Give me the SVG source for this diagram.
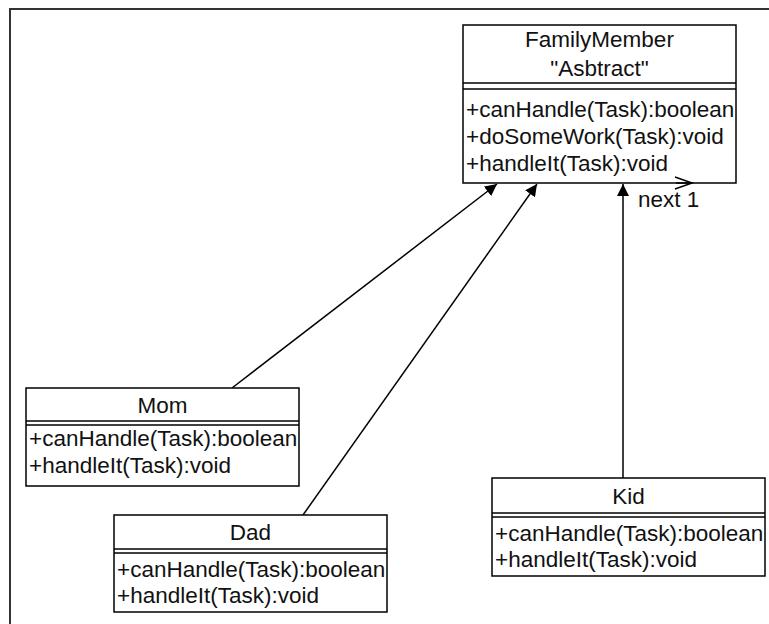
<svg xmlns="http://www.w3.org/2000/svg" width="769" height="624" viewBox="0 0 769 624">
<defs>
<style>
.box{fill:#fff;stroke:#000;stroke-width:1.5}
.sep{stroke:#000;stroke-width:1.5;fill:none}
.t{font-family:"Liberation Sans",Arial,sans-serif;font-size:22.5px;fill:#111}
.c{text-anchor:middle}
.edge{stroke:#000;stroke-width:1.5;fill:none}
</style>
<marker id="tri" viewBox="0 0 10 10" refX="10" refY="5" markerWidth="12" markerHeight="12" markerUnits="userSpaceOnUse" orient="auto">
<path d="M0,0 L10,5 L0,10 z" fill="#000"/>
</marker>
</defs>
<rect width="769" height="624" fill="#fff"/>
<path d="M10,624 V9 H769" fill="none" stroke="#333" stroke-width="2"/>
<g id="connectors">
<line class="edge" x1="232" y1="388" x2="497" y2="184" marker-end="url(#tri)"/>
<line class="edge" x1="303" y1="515" x2="537" y2="184" marker-end="url(#tri)"/>
<line class="edge" x1="623" y1="478" x2="623" y2="184" marker-end="url(#tri)"/>
</g>
<g id="FamilyMember">
<rect class="box" x="463" y="25" width="273" height="158"/>
<line class="sep" x1="463" y1="83" x2="736" y2="83"/>
<line class="sep" x1="463" y1="89" x2="736" y2="89"/>
<text class="t c" x="599.5" y="47">FamilyMember</text>
<text class="t c" x="599.5" y="76">"Asbtract"</text>
<text class="t" x="466" y="117">+canHandle(Task):boolean</text>
<text class="t" x="466" y="144">+doSomeWork(Task):void</text>
<text class="t" x="466" y="171">+handleIt(Task):void</text>
<line class="edge" x1="676" y1="183" x2="692" y2="183"/>
<polyline class="edge" points="675,177 692,183 675,189"/>
<text class="t" x="638" y="207">next 1</text>
</g>
<g id="Mom">
<rect class="box" x="26" y="388" width="273" height="98"/>
<line class="sep" x1="26" y1="421" x2="299" y2="421"/>
<line class="sep" x1="26" y1="425" x2="299" y2="425"/>
<text class="t c" x="162.5" y="413">Mom</text>
<text class="t" x="29" y="446">+canHandle(Task):boolean</text>
<text class="t" x="29" y="473">+handleIt(Task):void</text>
</g>
<g id="Dad">
<rect class="box" x="114" y="515" width="273" height="97"/>
<line class="sep" x1="114" y1="549" x2="387" y2="549"/>
<line class="sep" x1="114" y1="553" x2="387" y2="553"/>
<text class="t c" x="250.5" y="540">Dad</text>
<text class="t" x="117" y="577">+canHandle(Task):boolean</text>
<text class="t" x="117" y="603">+handleIt(Task):void</text>
</g>
<g id="Kid">
<rect class="box" x="492" y="478" width="273" height="98"/>
<line class="sep" x1="492" y1="513" x2="765" y2="513"/>
<line class="sep" x1="492" y1="517" x2="765" y2="517"/>
<text class="t c" x="628.5" y="504">Kid</text>
<text class="t" x="495" y="541">+canHandle(Task):boolean</text>
<text class="t" x="495" y="567">+handleIt(Task):void</text>
</g>
</svg>
